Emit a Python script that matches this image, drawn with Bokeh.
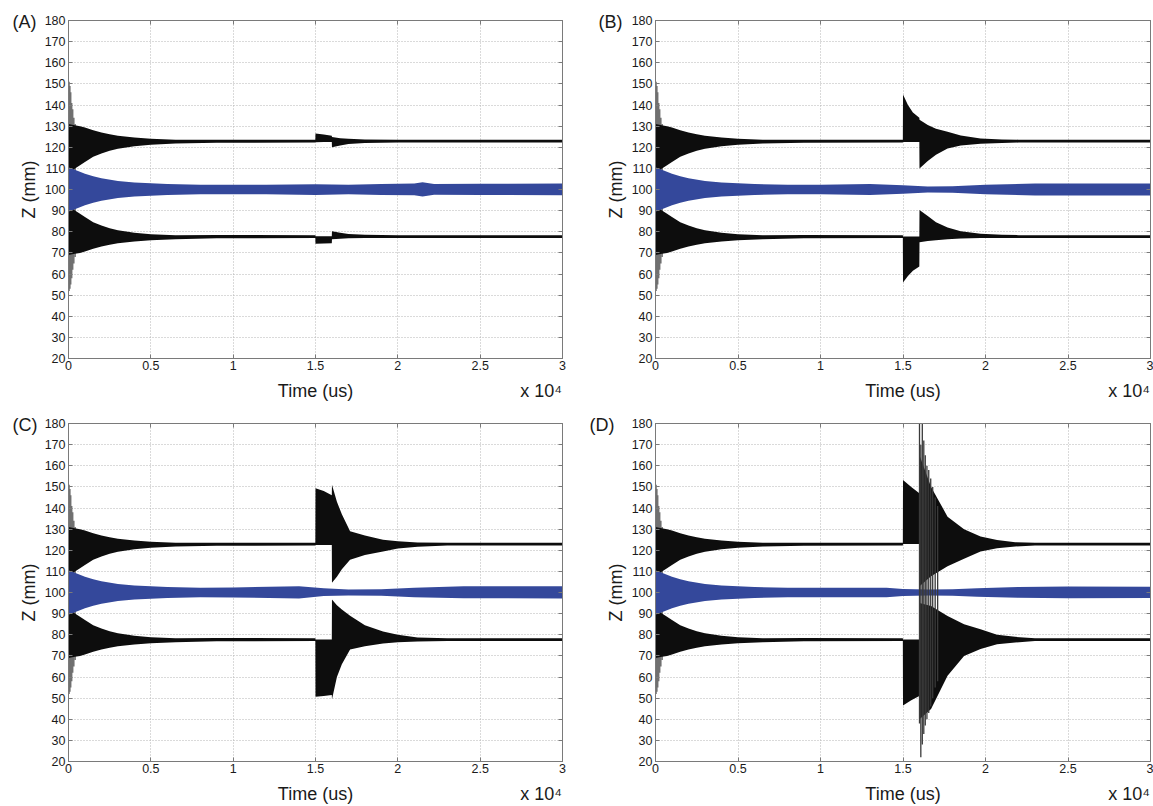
from bokeh.plotting import figure
from bokeh.models import FixedTicker, LinearAxis, Range1d, Title
from bokeh.layouts import gridplot
from bokeh.embed import file_html
from bokeh.resources import INLINE

# ---------------- data ----------------
x_ticks = [0, 5000, 10000, 15000, 20000, 25000, 30000]
x_tick_labels = ["0", "0.5", "1", "1.5", "2", "2.5", "3"]
y_ticks = list(range(20, 181, 10))
x_title = "Time (us)"
x_multiplier = "x 10\u2074"
y_title = "Z (mm)"

# common start-up transient (all four runs), envelope of the dense oscillation
t_early = [0, 300, 700, 1000, 1500, 2000, 2500, 3000, 4000, 5000, 6500]
up_hi_early = [131.0, 130.5, 130.0, 129.3, 128.0, 127.0, 126.2, 125.5, 124.6, 124.0, 123.6]
up_lo_early = [108.0, 109.5, 111.5, 113.0, 115.5, 117.0, 118.3, 119.3, 120.5, 121.2, 121.8]
lo_hi_early = [92.0, 90.5, 88.5, 87.0, 84.5, 83.0, 81.7, 80.7, 79.5, 78.8, 78.4]
lo_lo_early = [69.0, 69.5, 70.0, 70.7, 72.0, 73.0, 73.8, 74.5, 75.4, 76.0, 76.5]

bl_t_early = [0, 500, 1000, 1500, 2000, 3000, 4000, 6000, 8000]
bl_hi_early = [110.5, 109.0, 107.5, 106.3, 105.3, 104.0, 103.3, 102.6, 102.3]
bl_lo_early = [89.5, 91.0, 92.5, 93.7, 94.7, 96.0, 96.7, 97.4, 97.7]

# start-up spikes
sp_t = [30, 80, 130, 190, 250, 320, 400]
sp_hi = [151, 149, 146, 141, 138, 134, 131]
sp_lo = [52, 53, 55, 58, 62, 65, 68]

# ---- panel (A)
A_t = [9000, 14990, 15000, 15500, 15990, 16000, 16500, 17000, 18000, 20000, 30000]
A_up_hi = [123.5, 123.6, 126.5, 126.0, 125.5, 124.8, 124.3, 124.0, 123.7, 123.6, 123.6]
A_up_lo = [122.1, 122.2, 122.4, 122.5, 122.5, 120.0, 120.8, 121.5, 122.0, 122.2, 122.2]
A_lo_hi = [78.5, 78.4, 77.9, 77.9, 77.9, 80.2, 79.5, 78.9, 78.6, 78.4, 78.4]
A_lo_lo = [76.9, 77.0, 74.3, 74.4, 74.5, 76.5, 76.7, 76.9, 77.0, 77.0, 77.0]
A_bt = [10000, 12000, 15000, 17000, 19000, 21000, 21500, 22200, 25000, 30000]
A_bl_hi = [102.2, 102.3, 102.5, 102.3, 102.6, 102.8, 103.4, 102.6, 102.7, 102.8]
A_bl_lo = [97.8, 97.7, 97.4, 97.7, 97.4, 97.3, 96.7, 97.5, 97.4, 97.3]

# ---- panel (B)
B_t = [9000, 14990, 15000, 15300, 15600, 15990, 16000, 16500, 17000, 17700, 18500, 19700, 21000, 22000, 30000]
B_up_hi = [123.5, 123.6, 145.0, 140.0, 136.5, 134.0, 133.0, 130.5, 128.8, 127.3, 125.6, 124.2, 123.7, 123.6, 123.6]
B_up_lo = [122.1, 122.2, 122.5, 122.5, 122.5, 122.5, 110.0, 113.5, 116.5, 119.4, 120.8, 121.6, 122.0, 122.2, 122.2]
B_lo_hi = [78.5, 78.4, 77.8, 77.8, 77.8, 77.8, 90.3, 87.5, 84.5, 82.0, 80.2, 79.0, 78.6, 78.4, 78.4]
B_lo_lo = [76.9, 77.0, 56.0, 59.0, 61.5, 63.5, 75.0, 75.6, 76.0, 76.4, 76.8, 77.0, 77.0, 77.0, 77.0]
B_bt = [10000, 13000, 15000, 16500, 18000, 20000, 23000, 30000]
B_bl_hi = [102.2, 102.6, 102.0, 101.4, 101.5, 102.2, 102.8, 102.8]
B_bl_lo = [97.8, 97.4, 98.0, 98.6, 98.5, 97.8, 97.2, 97.2]

# ---- panel (C)
C_t = [9000, 14990, 15000, 15500, 15990, 16000, 16300, 16600, 17100, 18000, 19100, 20000, 21200, 23000, 30000]
C_up_hi = [123.5, 123.6, 149.3, 148.0, 146.0, 151.0, 143.0, 137.0, 129.0, 127.0, 125.0, 124.3, 123.7, 123.6, 123.6]
C_up_lo = [122.1, 122.2, 122.5, 122.5, 122.5, 104.6, 107.5, 111.0, 115.5, 117.8, 119.4, 120.8, 121.6, 122.2, 122.2]
C_lo_hi = [78.5, 78.4, 77.7, 77.7, 77.7, 96.7, 94.0, 92.0, 89.0, 84.5, 81.5, 80.0, 78.7, 78.4, 78.4]
C_lo_lo = [76.9, 77.0, 50.6, 51.0, 51.5, 49.3, 60.0, 66.0, 73.0, 74.5, 75.8, 76.4, 76.8, 77.0, 77.0]
C_bt = [10000, 14000, 15500, 17000, 19000, 21000, 24000, 30000]
C_bl_hi = [102.4, 102.9, 102.0, 101.4, 101.5, 102.3, 102.9, 103.0]
C_bl_lo = [97.6, 97.2, 98.3, 98.6, 98.5, 97.8, 97.3, 97.2]

# ---- panel (D)
D_t = [9000, 14990, 15000, 15500, 15990, 16000, 16700, 17700, 18700, 19700, 20700, 21800, 23000, 30000]
D_up_hi = [123.5, 123.6, 153.2, 150.0, 147.0, 165.0, 150.0, 135.9, 130.0, 126.5, 124.8, 123.8, 123.6, 123.6]
D_up_lo = [122.1, 122.2, 123.0, 123.0, 123.0, 103.0, 107.7, 112.4, 116.0, 119.4, 121.0, 121.8, 122.2, 122.2]
D_lo_hi = [78.5, 78.4, 77.7, 77.7, 77.7, 95.0, 93.6, 88.9, 85.0, 82.6, 80.0, 79.0, 78.4, 78.4]
D_lo_lo = [76.9, 77.0, 46.5, 49.0, 51.0, 40.0, 44.9, 60.6, 70.0, 73.2, 75.5, 76.3, 77.0, 77.0]
D_bt = [10000, 14000, 15000, 16500, 18000, 19500, 22000, 25000, 30000]
D_bl_hi = [102.3, 102.2, 101.6, 101.4, 101.5, 102.0, 102.6, 102.8, 102.7]
D_bl_lo = [97.7, 97.8, 98.4, 98.6, 98.5, 98.0, 97.5, 97.3, 97.4]
# large excursions in run (D) just after t = 1.6e4
D_sp_t = [16000, 16080, 16170, 16260, 16350, 16450, 16560, 16680, 16800, 16950, 17100]
D_sp_hi = [180, 170, 180, 172, 165, 160, 158, 154, 150, 145, 141]
D_sp_lo = [38, 22, 28, 33, 37, 40, 43, 46, 50, 55, 58]

# ---------------- styling ----------------
FONT = "Liberation Sans"
BLACK = "#0d0d0d"
GREY = "#707070"
BLUE = "#34489b"
FRAME = "#7a7a7a"
TXT = "#1a1a1a"


def panel(letter, col, row, t, up_hi, up_lo, lo_hi, lo_lo, bt, bl_hi, bl_lo, spk=None):
    if col == 0:
        w, bl, br, lab_dx = 576, 68, 14, -56
    else:
        w, bl, br, lab_dx = 577, 79, 3, (-66 if row == 1 else -57)
    p = figure(width=w, height=403, x_range=Range1d(0, 30000), y_range=Range1d(20, 180),
               output_backend="svg", toolbar_location=None,
               min_border_left=bl, min_border_right=br, min_border_top=20, min_border_bottom=44)
    p.outline_line_color = FRAME
    p.background_fill_color = "white"
    p.border_fill_color = "white"

    p.xaxis.ticker = FixedTicker(ticks=x_ticks)
    p.xaxis.major_label_overrides = {k: v for k, v in zip(x_ticks, x_tick_labels)}
    p.yaxis.ticker = FixedTicker(ticks=y_ticks)
    for ax in (p.xaxis[0], p.yaxis[0]):
        ax.minor_tick_line_color = None
        ax.major_tick_in = 4
        ax.major_tick_out = 0
        ax.major_tick_line_color = FRAME
        ax.axis_line_color = FRAME
        ax.major_label_text_font = FONT
        ax.major_label_text_font_size = "12.5px"
        ax.major_label_text_color = TXT
        ax.major_label_standoff = 3
    p.xaxis.major_label_standoff = 2
    p.yaxis.axis_label = y_title
    p.yaxis.axis_label_text_font = FONT
    p.yaxis.axis_label_text_font_size = "18px"
    p.yaxis.axis_label_text_font_style = "normal"
    p.yaxis.axis_label_text_color = TXT
    p.yaxis.axis_label_standoff = 3

    # second bottom axis carrying the axis title and the x10^4 multiplier
    tpos = [15000, 28700]
    ax2 = LinearAxis(ticker=FixedTicker(ticks=tpos),
                     major_label_overrides={tpos[0]: x_title, tpos[1]: x_multiplier},
                     major_label_text_font=FONT, major_label_text_font_size="18px",
                     major_label_text_color=TXT, major_label_standoff=2,
                     major_tick_line_color=None, minor_tick_line_color=None,
                     axis_line_color=None)
    p.add_layout(ax2, "below")

    # inward ticks on the top and right edges (no labels)
    for loc, tk in (("above", x_ticks), ("right", y_ticks)):
        ax = LinearAxis(ticker=FixedTicker(ticks=tk), major_label_text_font_size="1px",
                        major_label_text_color=None, major_label_standoff=0,
                        major_tick_in=4, major_tick_out=0, minor_tick_line_color=None,
                        axis_line_color=FRAME, major_tick_line_color=FRAME)
        p.add_layout(ax, loc)

    p.add_layout(Title(text=f"({letter})", align="left", offset=lab_dx,
                       vertical_align="bottom", standoff=-22, text_font=FONT,
                       text_font_size="18px", text_font_style="normal", text_color=TXT), "above")

    for g in (p.xgrid, p.ygrid):
        g.grid_line_color = "#b4b4b4"
        g.grid_line_dash = "1 2"
        g.grid_line_width = 1

    p.segment(x0=sp_t, y0=sp_lo, x1=sp_t, y1=sp_hi, line_color=GREY, line_width=1.6)
    tt = t_early + t
    p.varea(x=tt, y1=up_lo_early + up_lo, y2=up_hi_early + up_hi, fill_color=BLACK)
    p.varea(x=tt, y1=lo_lo_early + lo_lo, y2=lo_hi_early + lo_hi, fill_color=BLACK)
    p.varea(x=bl_t_early + bt, y1=bl_lo_early + bl_lo, y2=bl_hi_early + bl_hi, fill_color=BLUE)
    if spk is not None:
        st, shi, slo = spk
        p.segment(x0=st, y0=slo, x1=st, y1=shi, line_color="#3a3a3a", line_width=1.3)
    return p


pA = panel("A", 0, 0, A_t, A_up_hi, A_up_lo, A_lo_hi, A_lo_lo, A_bt, A_bl_hi, A_bl_lo)
pB = panel("B", 1, 0, B_t, B_up_hi, B_up_lo, B_lo_hi, B_lo_lo, B_bt, B_bl_hi, B_bl_lo)
pC = panel("C", 0, 1, C_t, C_up_hi, C_up_lo, C_lo_hi, C_lo_lo, C_bt, C_bl_hi, C_bl_lo)
pD = panel("D", 1, 1, D_t, D_up_hi, D_up_lo, D_lo_hi, D_lo_lo, D_bt, D_bl_hi, D_bl_lo,
           spk=(D_sp_t, D_sp_hi, D_sp_lo))

grid = gridplot([[pA, pB], [pC, pD]], toolbar_location=None)
open("out.html", "w").write(file_html(grid, INLINE))
